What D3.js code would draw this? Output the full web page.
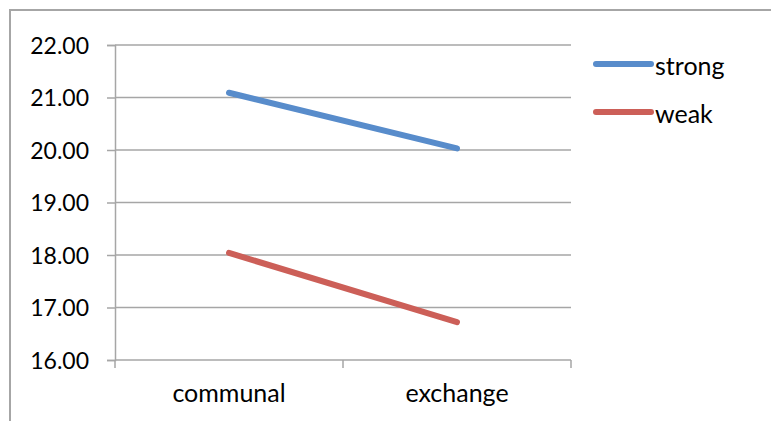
<!DOCTYPE html>
<html>
<head>
<meta charset="utf-8">
<script src="https://cdn.jsdelivr.net/npm/d3@7"></script>
<style>
  html, body { margin: 0; padding: 0; background: #fff; }
  svg { display: block; }
  text { font-family: Lato, "Open Sans", sans-serif; fill: #000; }
</style>
</head>
<body>
<svg id="chart" width="771" height="421"></svg>
<script>
// Categories along the x axis
const categories = ["communal", "exchange"];
// Series names and their values per category
const seriesNames = ["strong", "weak"];
const strongValues = [21.09, 20.03];
const weakValues = [18.04, 16.72];
// Y-axis tick labels
const yTicks = [16, 17, 18, 19, 20, 21, 22];

const seriesValues = [strongValues, weakValues];
const colors = ["#588CCB", "#CC5F58"];
const gridColor = "#A6A6A6";

const svg = d3.select("#chart");
const plot = { left: 115, right: 571, top: 45, bottom: 360 };

const x = d3.scaleBand().domain(categories).range([plot.left, plot.right]);
const y = d3.scaleLinear().domain([16, 22]).range([plot.bottom, plot.top]);

// Outer chart frame (top and left edges visible)
svg.append("path")
  .attr("d", "M10,421 L10,10 L771,10")
  .attr("fill", "none")
  .attr("stroke", gridColor)
  .attr("stroke-width", 2);

// Horizontal gridlines
svg.append("g").selectAll("line").data(yTicks.filter(d => d > 16)).join("line")
  .attr("x1", plot.left).attr("x2", plot.right)
  .attr("y1", d => y(d)).attr("y2", d => y(d))
  .attr("stroke", gridColor).attr("stroke-width", 1.5);

// Y axis with tick marks and labels
const yAxis = svg.append("g")
  .attr("transform", `translate(${plot.left},0)`)
  .call(d3.axisLeft(y).tickValues(yTicks).tickSize(8).tickPadding(18)
    .tickFormat(d3.format(".2f")));
yAxis.select(".domain").attr("stroke", gridColor).attr("stroke-width", 1.5);
yAxis.selectAll(".tick line").attr("stroke", gridColor).attr("stroke-width", 1.5);
yAxis.selectAll(".tick text")
  .attr("font-size", 23).attr("font-family", "Lato")
  .attr("dy", "0.36em");

// X axis: baseline, boundary ticks, category labels
const xAxisY = plot.bottom;
svg.append("line")
  .attr("x1", plot.left).attr("x2", plot.right)
  .attr("y1", xAxisY).attr("y2", xAxisY)
  .attr("stroke", gridColor).attr("stroke-width", 1.5);
const boundaries = categories.map(c => x(c)).concat([x(categories[categories.length - 1]) + x.bandwidth()]);
svg.append("g").selectAll("line").data(boundaries).join("line")
  .attr("x1", d => d).attr("x2", d => d)
  .attr("y1", xAxisY).attr("y2", xAxisY + 8)
  .attr("stroke", gridColor).attr("stroke-width", 1.5);
svg.append("g").selectAll("text").data(categories).join("text")
  .attr("x", d => x(d) + x.bandwidth() / 2)
  .attr("y", 402)
  .attr("text-anchor", "middle")
  .attr("font-size", 25)
  .text(d => d);

// Series lines
const line = d3.line()
  .x((d, i) => x(categories[i]) + x.bandwidth() / 2)
  .y(d => y(d));
svg.append("g").selectAll("path").data(seriesValues).join("path")
  .attr("d", d => line(d))
  .attr("fill", "none")
  .attr("stroke", (d, i) => colors[i])
  .attr("stroke-width", 6)
  .attr("stroke-linecap", "round");

// Legend
const legend = svg.append("g").selectAll("g").data(seriesNames).join("g")
  .attr("transform", (d, i) => `translate(596,${64 + i * 48})`);
legend.append("line")
  .attr("x1", 0).attr("x2", 55)
  .attr("stroke", (d, i) => colors[i])
  .attr("stroke-width", 6)
  .attr("stroke-linecap", "round");
legend.append("text")
  .attr("x", 59).attr("y", 11)
  .attr("font-size", 25)
  .text(d => d);
</script>
</body>
</html>
